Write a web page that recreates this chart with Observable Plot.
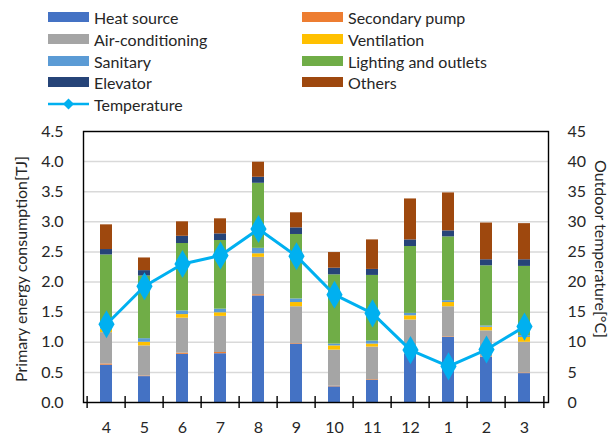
<!DOCTYPE html>
<html>
<head>
<meta charset="utf-8">
<script src="https://cdn.jsdelivr.net/npm/d3@7"></script>
<script src="https://cdn.jsdelivr.net/npm/@observablehq/plot@0.6"></script>
<style>
  html, body { margin: 0; padding: 0; background: #fff; }
  body { width: 612px; height: 437px; overflow: hidden; font-family: Lato, "Open Sans", sans-serif; }
  #legend { position: relative; width: 612px; height: 118px; }
  .item { position: absolute; height: 20px; display: flex; align-items: center; font-size: 16px; color: #262626; }
  .sw { width: 41px; height: 10px; margin-right: 5px; }
  #chart svg { display: block; overflow: visible; }
</style>
</head>
<body>
<div id="legend"></div>
<div id="chart"></div>
<script>
// ---- data ----
const months = ["4", "5", "6", "7", "8", "9", "10", "11", "12", "1", "2", "3"];
const heatSource      = [0.62, 0.43, 0.80, 0.81, 1.77, 0.97, 0.26, 0.37, 0.80, 1.08, 0.75, 0.48];
const secondaryPump   = [0.02, 0.01, 0.02, 0.02, 0.02, 0.01, 0.01, 0.01, 0.01, 0.01, 0.01, 0.01];
const airConditioning = [0.52, 0.50, 0.58, 0.60, 0.62, 0.61, 0.60, 0.54, 0.56, 0.50, 0.43, 0.51];
const ventilation     = [0.06, 0.06, 0.06, 0.06, 0.06, 0.07, 0.07, 0.05, 0.07, 0.07, 0.06, 0.08];
const sanitary        = [0.05, 0.06, 0.06, 0.06, 0.09, 0.06, 0.03, 0.05, 0.04, 0.03, 0.02, 0.03];
const lighting        = [1.18, 1.04, 1.12, 1.14, 1.08, 1.07, 1.15, 1.09, 1.11, 1.06, 1.00, 1.15];
const elevator        = [0.09, 0.09, 0.12, 0.11, 0.10, 0.11, 0.11, 0.10, 0.11, 0.10, 0.10, 0.11];
const others          = [0.41, 0.21, 0.24, 0.25, 0.25, 0.25, 0.26, 0.49, 0.68, 0.63, 0.61, 0.60];
const temperature     = [13.0, 19.3, 23.0, 24.4, 28.8, 24.3, 17.9, 14.8, 8.7, 6.0, 8.8, 12.6];

const seriesNames = ["Heat source", "Secondary pump", "Air-conditioning", "Ventilation",
                     "Sanitary", "Lighting and outlets", "Elevator", "Others"];
const seriesValues = [heatSource, secondaryPump, airConditioning, ventilation,
                      sanitary, lighting, elevator, others];
const seriesColors = ["#4472c4", "#ed7d31", "#a5a5a5", "#ffc000",
                      "#5b9bd5", "#70ad47", "#264478", "#9e480e"];
const tempColor = "#00b0f0";
const leftTicks = [0, 0.5, 1, 1.5, 2, 2.5, 3, 3.5, 4, 4.5];
const rightTickLabels = ["0", "5", "10", "15", "20", "25", "30", "35", "40", "45"];
const leftTitle = "Primary energy consumption[TJ]";
const rightTitle = "Outdoor temperature[°C]";
const tempLabel = "Temperature";

// long table for stacking
const table = [];
seriesNames.forEach((name, s) => {
  months.forEach((m, i) => table.push({month: m, series: name, value: seriesValues[s][i]}));
});
// temperature mapped onto the left scale (45 °C ↔ 4.5 TJ)
const tempRows = months.map((m, i) => ({month: m, t: temperature[i] / 10}));

// ---- legend (HTML) ----
const legend = document.getElementById("legend");
const rowY = [7, 29, 51, 72, 94];
seriesNames.forEach((name, s) => {
  const col = s % 2, row = Math.floor(s / 2);
  const d = document.createElement("div");
  d.className = "item";
  d.style.left = (col === 0 ? 48 : 302) + "px";
  d.style.top = rowY[row] + "px";
  d.innerHTML = `<span class="sw" style="background:${seriesColors[s]}"></span><span>${name}</span>`;
  legend.appendChild(d);
});
{
  const d = document.createElement("div");
  d.className = "item";
  d.style.left = "48px";
  d.style.top = rowY[4] + "px";
  d.innerHTML = `<svg width="41" height="14" style="margin-right:5px"><line x1="0" x2="41" y1="7" y2="7" stroke="${tempColor}" stroke-width="2.5"/><path d="M20.5,1.5 L26,7 L20.5,12.5 L15,7 Z" fill="${tempColor}"/></svg><span>${tempLabel}</span>`;
  legend.appendChild(d);
}

// ---- chart ----
const W = 612, H = 319, mL = 83, mR = 64, mT = 13, mB = 35;
const step = (W - mL - mR) / months.length;
const font = "Lato, 'Open Sans', sans-serif";

const chart = Plot.plot({
  width: W, height: H,
  marginLeft: mL, marginRight: mR, marginTop: mT, marginBottom: mB,
  style: {fontFamily: font, fontSize: "16px", color: "#262626", background: "#fff", overflow: "visible"},
  x: {type: "band", domain: months, paddingInner: 0.68, paddingOuter: 0.34, axis: null},
  y: {domain: [0, 4.5], axis: null},
  color: {domain: seriesNames, range: seriesColors},
  marks: [
    Plot.gridY(leftTicks, {stroke: "#d9d9d9", strokeOpacity: 1, strokeWidth: 1.5}),
    Plot.barY(table, {x: "month", y: "value", fill: "series", order: seriesNames}),
    Plot.line(tempRows, {x: "month", y: "t", stroke: tempColor, strokeWidth: 3}),
    Plot.dot(tempRows, {x: "month", y: "t", fill: tempColor, symbol: "diamond", r: 8.5}),
    Plot.frame({stroke: "#000", strokeWidth: 1.4}),
    // x tick marks at category boundaries
    Plot.ruleX(months, {x: d => d, y1: -0.1, y2: 0.1, dx: -step / 2, stroke: "#000", strokeWidth: 1.4}),
    Plot.ruleX(months.slice(-1), {x: d => d, y1: -0.1, y2: 0.1, dx: step / 2, stroke: "#000", strokeWidth: 1.4}),
    Plot.axisX({tickSize: 0, tickPadding: 19, fontSize: 16, label: null}),
    Plot.axisY(leftTicks, {anchor: "left", tickSize: 0, tickPadding: 20, tickFormat: d => d.toFixed(1), label: null}),
    Plot.axisY(leftTicks, {anchor: "right", tickSize: 0, tickPadding: 19, tickFormat: (d, i) => rightTickLabels[i], label: null}),
    Plot.text([leftTitle], {frameAnchor: "left", textAnchor: "middle", dx: -62, dy: 2, rotate: -90, fontSize: 16, fill: "#262626"}),
    Plot.text([rightTitle], {frameAnchor: "right", textAnchor: "middle", dx: 52, dy: -18, rotate: 90, fontSize: 16, fill: "#262626"})
  ]
});
document.getElementById("chart").appendChild(chart);
</script>
</body>
</html>
